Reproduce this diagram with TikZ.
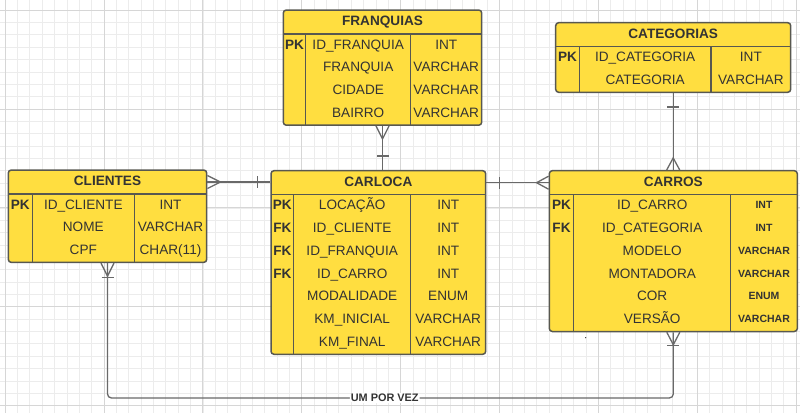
\documentclass[tikz,border=0pt]{standalone}
\usepackage{fontspec}
\setmainfont{Liberation Sans}
\usetikzlibrary{fit}
\definecolor{tabyellow}{RGB}{255,222,64}
\definecolor{edgegray}{RGB}{88,88,80}
\definecolor{linkgray}{RGB}{105,105,105}
\definecolor{inkgray}{RGB}{51,51,51}
\definecolor{gridlight}{RGB}{236,236,236}
\definecolor{gridmajor}{RGB}{214,214,214}
% name, title, left, top, right, divider 1, divider 2, rows, key/field/type list
\newcommand{\ertable}[9]{
    \pgfmathsetmacro{\tbot}{#4+24+22.8*#8}
    \node[tablebody, fit={(#3,#4) (#5,\tbot)}] (#1) {};
    \draw[tableline] (#3,#4+24)--(#5,#4+24);
    \draw[tableline] (#6,#4+24)--(#6,\tbot);
    \draw[tableline] (#7,#4+24)--(#7,\tbot);
    \node[headtext] (#1-h) at ({(#3+#5)/2},#4+12) {#2};
    \foreach \rk/\rf/\rt [count=\ri from 0] in {#9}{
      \node[keytext] (#1-k\ri) at ({(#3+#6)/2},{#4+34.2+22.8*\ri}) {\rk};
      \node[fieldtext] (#1-f\ri) at ({(#6+#7)/2},{#4+34.2+22.8*\ri}) {\rf};
      \node[typetext] (#1-t\ri) at ({(#7+#5)/2},{#4+34.2+22.8*\ri}) {\rt};
    }
}
\newcommand{\crowfoot}[3]{
    \begin{scope}[shift={#1}, rotate=#2]
      \draw[conn] (0,6.5)--(#3,0)--(0,-6.5);
    \end{scope}
}
\newcommand{\onebar}[3]{
    \begin{scope}[shift={#1}, rotate=#2]
      \draw[conn] (#3,6)--(#3,-6);
    \end{scope}
}
\tikzset{
    tablebody/.style={draw=edgegray, fill=tabyellow, line width=1.5pt, rounded corners=3pt, inner sep=0pt},
    tableline/.style={draw=edgegray, line width=1.5pt},
    celltext/.style={text=inkgray, inner sep=0pt, font=\fontsize{13.6}{16}\selectfont, text height=9.7pt, text depth=0pt},
    keytext/.style={celltext, font=\bfseries\fontsize{13.6}{16}\selectfont},
    headtext/.style={celltext, font=\bfseries\fontsize{13.6}{16}\selectfont, text depth=2pt},
    fieldtext/.style={celltext},
    typetext/.style={celltext},
    smalltype/.style={font=\bfseries\fontsize{10.5}{12}\selectfont, text height=7.6pt},
    conn/.style={draw=linkgray, line width=1.3pt},
    linklabel/.style={fill=white, text=inkgray, inner sep=1pt, font=\bfseries\fontsize{10.9}{12}\selectfont},
    gridminor/.style={draw=gridlight, line width=0.5pt},
    gridbold/.style={draw=gridmajor, line width=0.7pt}
}
\begin{document}
\begin{tikzpicture}[x=1pt, y=-1pt]
\useasboundingbox (0,0) rectangle (800,413);
\fill[white] (0,0) rectangle (800,413);
\begin{scope}
    \clip (0,0) rectangle (800,413);
    \foreach \gx in {0,...,65}{
      \draw[gridminor] ({5+12.36*(\gx-1)},0)--++(0,413);
    }
    \foreach \gy in {0,...,34}{
      \draw[gridminor] (0,{10+12.36*(\gy-1)})--++(800,0);
    }
    \foreach \gx in {0,...,8}{
      \draw[gridbold] ({5+98.9*\gx},0)--++(0,413);
    }
    \foreach \gy in {0,...,4}{
      \draw[gridbold] (0,{10+98.9*\gy})--++(800,0);
    }
\end{scope}

\ertable{franquias}{FRANQUIAS}{283.3}{10}{481.7}{305.7}{410.7}{4}{PK/ID\_FRANQUIA/INT, /FRANQUIA/VARCHAR, /CIDADE/VARCHAR, /BAIRRO/VARCHAR}
\ertable{clientes}{CLIENTES}{8.3}{170}{206.7}{32.3}{134.3}{3}{PK/ID\_CLIENTE/INT, /NOME/VARCHAR, /CPF/CHAR(11)}
\ertable{carloca}{CARLOCA}{271}{170.7}{485.7}{293.7}{410.7}{7}{PK/LOCAÇÃO/INT, FK/ID\_CLIENTE/INT, FK/ID\_FRANQUIA/INT, FK/ID\_CARRO/INT, /MODALIDADE/ENUM, /KM\_INICIAL/VARCHAR, /KM\_FINAL/VARCHAR}
\ertable{categorias}{CATEGORIAS}{555.7}{22.7}{790.7}{579.3}{711}{2}{PK/ID\_CATEGORIA/INT, /CATEGORIA/VARCHAR}
\begin{scope}[typetext/.append style={smalltype}]
\ertable{carros}{CARROS}{549.3}{170.7}{797.3}{573.7}{730.7}{6}{PK/ID\_CARRO/INT, FK/ID\_CATEGORIA/INT, /MODELO/VARCHAR, /MONTADORA/VARCHAR, /COR/ENUM, /VERSÃO/VARCHAR}
\end{scope}

% franquias - carloca
\coordinate (fr-end) at (franquias.south);
\coordinate (ca-top) at (franquias.south |- carloca.north);
\draw[conn] (fr-end)--(ca-top);
\crowfoot{(fr-end)}{-90}{13}
\onebar{(ca-top)}{90}{14}
% clientes - carloca
\coordinate (cl-end) at (clientes.east |- clientes-h);
\coordinate (ca-left) at (carloca.west |- clientes-h);
\draw[conn] (cl-end)--(ca-left);
\crowfoot{(cl-end)}{0}{13}
\onebar{(ca-left)}{180}{13}
% carloca - carros
\coordinate (ca-right) at (carloca.east |- carloca-h);
\coordinate (cr-left) at (carros.west |- carloca-h);
\draw[conn] (ca-right)--(cr-left);
\onebar{(ca-right)}{0}{13}
\crowfoot{(cr-left)}{180}{12}
% categorias - carros
\coordinate (ct-end) at (categorias.south);
\coordinate (cr-top) at (categorias.south |- carros.north);
\draw[conn] (ct-end)--(cr-top);
\onebar{(ct-end)}{-90}{14}
\crowfoot{(cr-top)}{90}{12}
% clientes - carros
\coordinate (runway) at (0,398);
\draw[conn, rounded corners=4pt] (clientes.south)--(clientes.south |- runway)--node[pos=0.49, linklabel] (vez) {UM POR VEZ} (carros.south |- runway)--(carros.south);
\crowfoot{(clientes.south)}{-90}{13}
\onebar{(clientes.south)}{-90}{14}
\crowfoot{(carros.south)}{-90}{12.5}
\onebar{(carros.south)}{-90}{13}

\fill[inkgray] (585.7,337.7) circle (0.7);
\end{tikzpicture}
\end{document}
